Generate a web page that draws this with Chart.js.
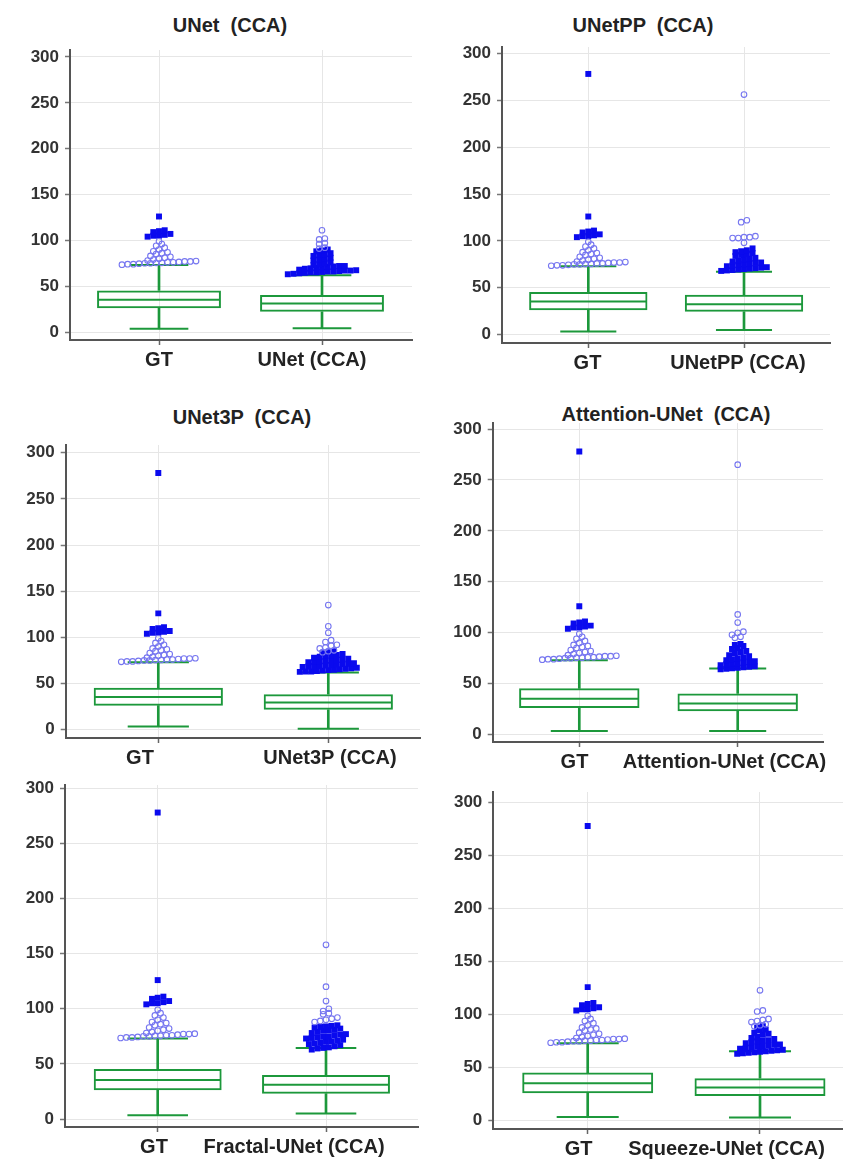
<!DOCTYPE html>
<html><head><meta charset="utf-8">
<script src="https://cdn.jsdelivr.net/npm/chart.js@4.4.1/dist/chart.umd.min.js"></script>
<style>
html,body{margin:0;padding:0;width:843px;height:1160px;overflow:hidden;background:#fff;}
canvas{position:absolute;}
.ttl{position:absolute;font:bold 20px "Liberation Sans",Arial,sans-serif;color:#222;white-space:pre;transform:translate(-50%,-50%);}
</style></head><body>
<script>
// ---------------- data ----------------
const gtLabel = 'GT';
const modelLabels = ['UNet (CCA)', 'UNetPP (CCA)', 'UNet3P (CCA)', 'Attention-UNet (CCA)', 'Fractal-UNet (CCA)', 'Squeeze-UNet (CCA)'];
const panelTitles = ['UNet  (CCA)', 'UNetPP  (CCA)', 'UNet3P  (CCA)', 'Attention-UNet  (CCA)', '', ''];
const yTickValues = [0, 50, 100, 150, 200, 250, 300];

// box statistics: [lower whisker, Q1, median, Q3, upper whisker]
const gtBox       = [3.5, 26, 35.3, 45.4, 73];
const unetBox     = [4, 22, 31, 40.5, 62];
const unetppBox   = [5, 24.5, 32.5, 42.5, 67];
const unet3pBox   = [1, 21.5, 29.5, 38.5, 62];
const attnBox     = [3.5, 23, 30.5, 40.3, 65];
const fractalBox  = [5, 23, 31, 40, 64.5];
const squeezeBox  = [3, 23.3, 31.4, 40, 65.5];

// outside values (open circles) and far-out values (filled squares)
const gtOutside      = [73.5, 74, 74, 74.5, 75, 75, 75.5, 75.5, 76, 76, 76.5, 77, 77, 77.4, 78, 79, 80, 81, 82, 83, 85, 86, 87, 88, 90, 92, 94, 96, 99];
const gtFarOutUNet   = [104, 105, 105, 106, 107, 109, 110, 111, 126];
const gtFarOut       = [104, 105, 105, 106, 107, 109, 110, 111, 126, 278];

const unetOutside    = [91, 92, 96, 97, 101, 102, 111];
const unetFarOut     = [63, 63.5, 64, 64.5, 65, 65, 65.5, 66, 66, 66.5, 67, 67, 67.4, 68, 69, 69.5, 70, 70.5, 71, 71.5, 72, 72, 73, 74, 75, 76, 78, 79, 80, 81, 83, 84, 85, 86, 88, 89, 90];

const unetppOutside  = [98, 103, 103, 104, 104, 105, 120, 122, 256];
const unetppFarOut   = [68, 68.5, 69, 69.5, 70, 70.5, 71, 71.5, 72, 73, 74, 74.5, 75, 76, 76.5, 77, 78, 79, 80, 81, 82, 84, 85, 86, 87, 88, 89, 90, 92];

const unet3pOutside  = [84, 85, 86, 88, 89, 91, 92, 95, 97, 105, 112, 135];
const unet3pFarOut   = [62.6, 63, 63, 63.5, 64, 64.5, 65, 65.5, 66, 66.5, 67, 68, 68.5, 69, 69, 69.5, 70, 70.5, 71, 71.5, 72, 73, 73.5, 74, 74.5, 75, 75.5, 76, 77, 78, 79, 80, 80.5, 81, 82, 83, 84, 85];

const attnOutside    = [95, 96, 98, 100, 101, 110, 118, 265];
const attnFarOut     = [64, 64.5, 65, 65.5, 66, 66.5, 67, 68, 69, 69.5, 70, 71, 71.5, 72, 73, 74, 75, 76, 77, 78, 80, 81, 82, 84, 85, 87, 88, 89];

const fractalOutside = [88, 89, 90, 91, 92, 95, 96, 98, 100, 107, 120, 158];
const fractalFarOut  = [63, 64, 64.5, 65, 66, 67, 68, 68.5, 69, 70, 70.5, 71, 72, 73, 73.5, 74, 74.5, 75, 76, 76.5, 77, 78, 79, 80, 80.5, 81, 82, 83, 83.5, 84, 84.5, 85];

const squeezeOutside = [89, 90, 91, 93, 94, 95, 96, 103, 104, 123];
const squeezeFarOut  = [63, 63.5, 64, 64.5, 65, 65.5, 66, 66.5, 67, 68, 68.5, 69, 70, 70.5, 71, 71.5, 72, 73, 74, 75, 75.5, 76, 77, 78, 79, 81, 82, 83, 85, 86, 88, 89];

// ---------------- styling / layout ----------------
const GREEN = '#1c983b';
const SQUARE_BLUE = '#0a0aee';
const CIRCLE_BLUE = '#7676f0';
const GRID = '#e6e6e6';
const AXIS = '#555';
const FONT = '"Liberation Sans", Arial, sans-serif';
const BIN = 5;            // value bin for dot stacking
const SPACING_PX = 5.7;   // horizontal distance between stacked dots
const BOX_W = 0.76;       // box width (category units)
const CAP_W = 0.36;       // whisker cap width (category units)

const panels = [
  {box: unetBox,    out: unetOutside,    far: unetFarOut,    gtFar: gtFarOutUNet,
   L: {cl: 0,   cw: 425, axisX: 70,    c1: 159,   c2: 322,   right: 412, y0: 332,    y300: 57,    top: 50,    bottom: 340,    lbl: [159, 312],     title: [230, 25]}},
  {box: unetppBox,  out: unetppOutside,  far: unetppFarOut,  gtFar: gtFarOut,
   L: {cl: 425, cw: 418, axisX: 502,   c1: 588.3, c2: 744,   right: 830, y0: 335,    y300: 53.3,  top: 47,    bottom: 343.3,  lbl: [587.5, 738],   title: [643, 25]}},
  {box: unet3pBox,  out: unet3pOutside,  far: unet3pFarOut,  gtFar: gtFarOut,
   L: {cl: 0,   cw: 425, axisX: 65.7,  c1: 158.3, c2: 328.3, right: 420, y0: 730,    y300: 452.7, top: 445,   bottom: 738.3,  lbl: [140, 330],     title: [242, 417]}},
  {box: attnBox,    out: attnOutside,    far: attnFarOut,    gtFar: gtFarOut,
   L: {cl: 425, cw: 418, axisX: 492.7, c1: 579.3, c2: 737.7, right: 823, y0: 734.3,  y300: 429,   top: 423,   bottom: 741.7,  lbl: [574.5, 724.5], title: [666, 414]}},
  {box: fractalBox, out: fractalOutside, far: fractalFarOut, gtFar: gtFarOut,
   L: {cl: 0,   cw: 425, axisX: 65,    c1: 157.7, c2: 326,   right: 418, y0: 1119.3, y300: 788.3, top: 785,   bottom: 1127.3, lbl: [154, 294],     title: null}},
  {box: squeezeBox, out: squeezeOutside, far: squeezeFarOut, gtFar: gtFarOut,
   L: {cl: 425, cw: 418, axisX: 493.3, c1: 587.7, c2: 760,   right: 843, y0: 1120.7, y300: 802.3, top: 791.7, bottom: 1129,   lbl: [578.7, 726.5], title: null}}
];

// stack dots of similar value side by side (sorted left to right)
function stackDots(values, center, dx) {
  const bins = new Map();
  values.forEach(v => {
    const k = Math.round(v / BIN);
    if (!bins.has(k)) bins.set(k, []);
    bins.get(k).push(v);
  });
  const pts = [];
  bins.forEach(arr => {
    arr.sort((a, b) => a - b);
    const n = arr.length;
    arr.forEach((v, i) => pts.push({x: center + (i - (n - 1) / 2) * dx, y: v}));
  });
  return pts;
}

const PAD_TOP = 14, XAX_H = 6, XL_H = 26;

panels.forEach((p, idx) => {
  const L = p.L;
  const ppu = L.c2 - L.c1;                       // pixels per category unit
  const ppv = (L.y0 - L.y300) / 300;             // pixels per value unit
  const xMin = 1 - (L.c1 - L.axisX) / ppu;
  const xMax = 1 + (L.right - L.c1) / ppu;
  const yMin = -(L.bottom - L.y0) / ppv;
  const yMax = 300 + (L.y300 - L.top) / ppv;
  const canvasTop = L.top - PAD_TOP;
  const H = Math.round(L.bottom - canvasTop + XAX_H + XL_H);
  const labels = [gtLabel, modelLabels[idx]];
  const labelVals = L.lbl.map(px => 1 + (px - L.c1) / ppu);
  const dx = SPACING_PX / ppu;
  const boxes = [gtBox, p.box];

  if (panelTitles[idx]) {
    const t = document.createElement('div');
    t.className = 'ttl';
    t.textContent = panelTitles[idx];
    t.style.left = L.title[0] + 'px';
    t.style.top = L.title[1] + 'px';
    document.body.appendChild(t);
  }

  const cv = document.createElement('canvas');
  cv.width = L.cw; cv.height = H;
  cv.style.left = L.cl + 'px'; cv.style.top = canvasTop + 'px';
  cv.style.width = L.cw + 'px'; cv.style.height = H + 'px';
  document.body.appendChild(cv);

  const nearPts = [...stackDots(gtOutside, 1, dx), ...stackDots(p.out, 2, dx)];
  const farPts = [...stackDots(p.gtFar, 1, dx), ...stackDots(p.far, 2, dx)];

  new Chart(cv, {
    type: 'bar',
    data: {
      datasets: [
        {type: 'scatter', data: nearPts, order: 0, pointStyle: 'circle', pointRadius: 2.8,
         borderColor: CIRCLE_BLUE, backgroundColor: 'rgba(0,0,0,0)', borderWidth: 1.1},
        {type: 'scatter', data: farPts, order: 1, pointStyle: 'rect', pointRadius: 4.2,
         borderColor: SQUARE_BLUE, backgroundColor: SQUARE_BLUE, borderWidth: 0},
        {type: 'scatter', order: 2, pointStyle: 'line', pointRadius: CAP_W / 2 * ppu,
         borderColor: GREEN, borderWidth: 2,
         data: boxes.flatMap((b, i) => [{x: i + 1, y: b[0]}, {x: i + 1, y: b[4]}])},
        {type: 'scatter', order: 2, pointStyle: 'line', pointRadius: BOX_W / 2 * ppu - 1,
         borderColor: GREEN, borderWidth: 2,
         data: boxes.map((b, i) => ({x: i + 1, y: b[2]}))},
        {type: 'bar', order: 3, grouped: false, borderSkipped: false, borderWidth: 2,
         borderColor: GREEN, backgroundColor: 'rgba(0,0,0,0)',
         barPercentage: BOX_W, categoryPercentage: 1,
         data: boxes.map((b, i) => ({x: i + 1, y: [b[1], b[3]]}))},
        {type: 'bar', order: 4, grouped: false, barThickness: 2, borderWidth: 0, backgroundColor: GREEN,
         data: boxes.map((b, i) => ({x: i + 1, y: [b[0], b[1]]}))},
        {type: 'bar', order: 4, grouped: false, barThickness: 2, borderWidth: 0, backgroundColor: GREEN,
         data: boxes.map((b, i) => ({x: i + 1, y: [b[3], b[4]]}))}
      ]
    },
    options: {
      responsive: false,
      animation: false,
      events: [],
      layout: {autoPadding: false, padding: {top: PAD_TOP, left: 0, right: L.cw - (L.right - L.cl), bottom: 0}},
      plugins: {legend: {display: false}, tooltip: {enabled: false}, title: {display: false}},
      scales: {
        x: {
          type: 'linear', position: 'bottom', min: xMin, max: xMax, offset: false,
          afterBuildTicks: s => { s.ticks = [{value: 1}, {value: 2}]; },
          afterFit: s => { s.height = XAX_H; s.paddingLeft = 0; s.paddingRight = 0; },
          ticks: {display: false},
          grid: {display: true, offset: false, color: GRID, lineWidth: 1, drawTicks: true,
                 tickLength: 5, tickColor: '#666', tickWidth: 1.5},
          border: {display: true, color: AXIS, width: 2}
        },
        xl: {
          type: 'linear', position: 'bottom', weight: 1, min: xMin, max: xMax, offset: false,
          afterBuildTicks: s => { s.ticks = labelVals.map(v => ({value: v})); },
          afterFit: s => { s.height = XL_H; s.paddingLeft = 0; s.paddingRight = 0; },
          ticks: {autoSkip: false, maxRotation: 0, minRotation: 0, padding: -6, color: '#222',
                  font: {family: FONT, size: 20, weight: 'bold'},
                  callback: (v, i) => labels[i]},
          grid: {display: false},
          border: {display: false}
        },
        y: {
          type: 'linear', position: 'left', min: yMin, max: yMax,
          afterBuildTicks: s => { s.ticks = yTickValues.map(v => ({value: v})); },
          afterFit: s => { s.width = L.axisX - L.cl; s.paddingTop = 0; s.paddingBottom = 0; },
          ticks: {padding: 6, color: '#333', font: {family: FONT, size: 17, weight: 'bold'},
                  callback: v => String(v)},
          grid: {color: GRID, lineWidth: 1, drawTicks: true, tickLength: 5, tickColor: '#777', tickWidth: 1.5},
          border: {display: true, color: AXIS, width: 2}
        }
      }
    }
  });
});
</script>
</body></html>
